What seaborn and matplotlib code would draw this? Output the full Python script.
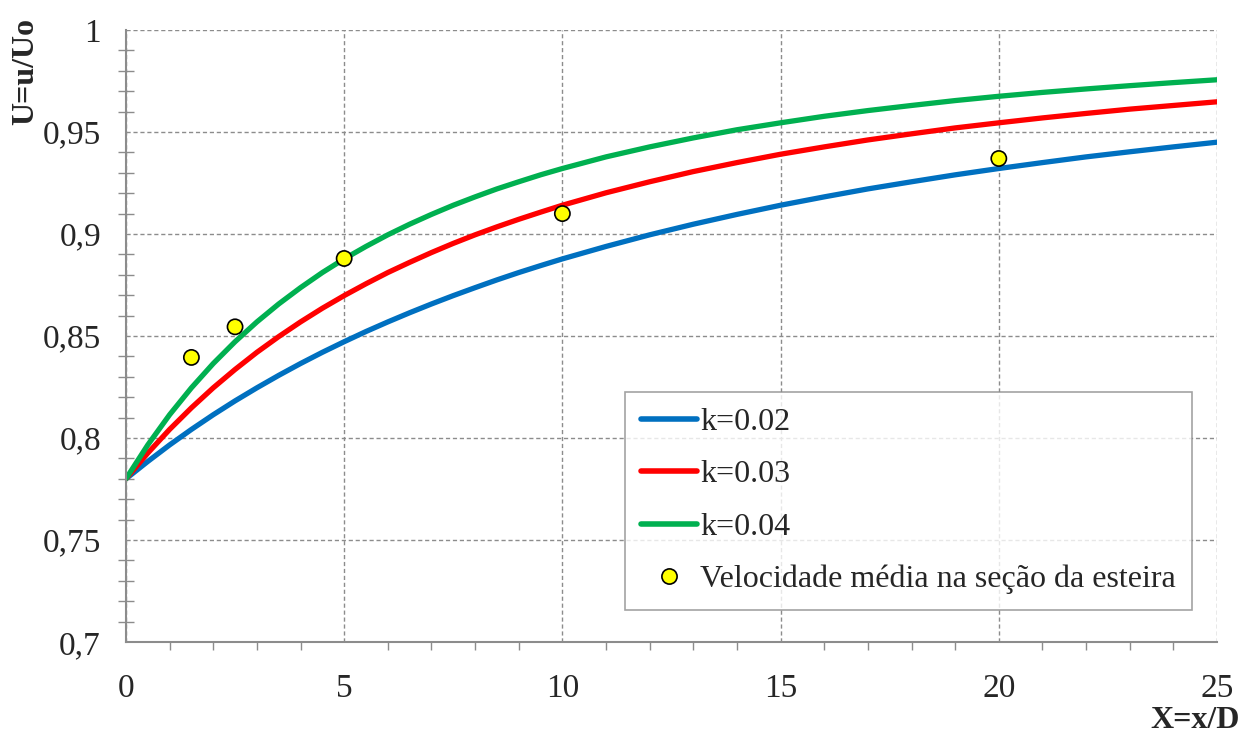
import numpy as np
import pandas as pd
import matplotlib
matplotlib.use("Agg")
import matplotlib.pyplot as plt
from matplotlib.ticker import MultipleLocator, FuncFormatter
import seaborn as sns

# Normalised downstream distance X = x/D
x_pos = [0, 0.5, 1, 1.5, 2, 2.5, 3, 3.5, 4, 4.5, 5, 5.5, 6, 6.5, 7, 7.5,
         8, 8.5, 9, 9.5, 10, 11, 12, 13, 14, 15, 16, 17, 18, 19, 20, 21,
         22, 23, 24, 25]

# Wake velocity ratio U = u/Uo for each wake decay constant
u_k002 = [0.7800, 0.7885, 0.7966, 0.8042, 0.8114, 0.8182, 0.8246, 0.8307,
          0.8365, 0.8420, 0.8472, 0.8522, 0.8569, 0.8614, 0.8657, 0.8698,
          0.8737, 0.8775, 0.8811, 0.8845, 0.8878, 0.8939, 0.8996, 0.9048,
          0.9096, 0.9141, 0.9182, 0.9221, 0.9256, 0.9290, 0.9321, 0.9350,
          0.9378, 0.9403, 0.9427, 0.9450]
u_k003 = [0.7800, 0.7926, 0.8042, 0.8148, 0.8246, 0.8336, 0.8420, 0.8497,
          0.8569, 0.8636, 0.8698, 0.8756, 0.8811, 0.8861, 0.8909, 0.8954,
          0.8996, 0.9035, 0.9072, 0.9107, 0.9141, 0.9202, 0.9256, 0.9306,
          0.9350, 0.9391, 0.9427, 0.9461, 0.9491, 0.9520, 0.9545, 0.9569,
          0.9591, 0.9612, 0.9630, 0.9648]
u_k004 = [0.7800, 0.7966, 0.8114, 0.8246, 0.8365, 0.8472, 0.8569, 0.8657,
          0.8737, 0.8811, 0.8878, 0.8939, 0.8996, 0.9048, 0.9096, 0.9141,
          0.9182, 0.9221, 0.9256, 0.9290, 0.9321, 0.9378, 0.9427, 0.9471,
          0.9511, 0.9545, 0.9577, 0.9605, 0.9630, 0.9654, 0.9675, 0.9694,
          0.9711, 0.9727, 0.9742, 0.9756]

series_labels = ["k=0.02", "k=0.03", "k=0.04"]
series_colors = ["#0070C0", "#FF0000", "#00B050"]

# Mean velocity measured in the wake sections
meas_x = [1.5, 2.5, 5, 10, 20]
meas_u = [0.8395, 0.8545, 0.888, 0.910, 0.937]
meas_label = "Velocidade média na seção da esteira"

y_ticks = [0.7, 0.75, 0.8, 0.85, 0.9, 0.95, 1.0]
x_ticks = [0, 5, 10, 15, 20, 25]

curves = pd.DataFrame({
    "X": x_pos * 3,
    "U": u_k002 + u_k003 + u_k004,
    "serie": [s for s in series_labels for _ in x_pos],
})
points = pd.DataFrame({"X": meas_x, "U": meas_u, "serie": meas_label})

sns.set_style("white")
plt.rcParams["font.family"] = ["Liberation Serif", "DejaVu Serif"]

fig = plt.figure(figsize=(12.42, 7.33), dpi=100)
ax = fig.add_axes([0.1014, 0.1241, 0.8785, 0.835])

sns.lineplot(data=curves, x="X", y="U", hue="serie", hue_order=series_labels,
             palette=series_colors, linewidth=3.8, ax=ax,
             solid_capstyle="round", solid_joinstyle="round")
sns.scatterplot(data=points, x="X", y="U", hue="serie",
                palette=["#FFFF00"], s=120, edgecolor="black",
                linewidth=1.2, ax=ax, zorder=5)

ax.set_xlim(0, 25)
ax.set_ylim(0.7, 1.0)
ax.set_xticks(x_ticks)
ax.set_yticks(y_ticks)
ax.xaxis.set_minor_locator(MultipleLocator(1))
ax.yaxis.set_minor_locator(MultipleLocator(0.01))


def comma_fmt(v, _pos):
    s = f"{v:.2f}".rstrip("0").rstrip(".")
    return s.replace(".", ",")


ax.yaxis.set_major_formatter(FuncFormatter(comma_fmt))
ax.xaxis.set_major_formatter(FuncFormatter(lambda v, p: f"{v:.0f}"))

grid_color = "#8C8C8C"
ax.grid(True, which="major", color=grid_color, linestyle=(0, (3, 2)),
        linewidth=1.0)
ax.set_axisbelow(True)

for side in ["top", "right"]:
    ax.spines[side].set_visible(False)
for side in ["left", "bottom"]:
    ax.spines[side].set_color(grid_color)
    ax.spines[side].set_linewidth(1.5)

ax.tick_params(axis="y", which="major", direction="inout", length=14,
               width=1.2, color=grid_color, labelsize=24, pad=11)
ax.tick_params(axis="y", which="minor", direction="inout", length=12,
               width=1.0, color=grid_color, left=True)
ax.tick_params(axis="x", which="major", direction="out", length=9,
               width=1.2, color=grid_color, labelsize=24, pad=14)
ax.tick_params(axis="x", which="minor", direction="out", length=6,
               width=1.0, color=grid_color, bottom=True)

ax.set_xlabel("")
ax.set_ylabel("")
fig.text(0.0205, 0.975, "U=u/Uo", rotation=90, ha="center", va="top",
         fontsize=23, fontweight="bold")
fig.text(0.9985, 0.0068, "X=x/D", ha="right", va="baseline",
         fontsize=23, fontweight="bold")

handles, labels = ax.get_legend_handles_labels()
leg = ax.legend(handles, labels, loc="lower right",
                bbox_to_anchor=(0.977, 0.052), borderaxespad=0,
                fontsize=23, frameon=True, fancybox=False,
                handlelength=1.75, handletextpad=0.1, labelspacing=0.72,
                borderpad=0.5, edgecolor=grid_color)
leg.get_frame().set_linewidth(1.2)
for h in leg.legend_handles:
    if hasattr(h, "set_linewidth") and not hasattr(h, "get_offsets"):
        h.set_linewidth(4)
        h.set_solid_capstyle("round")

fig.savefig("out.png", dpi=100)
